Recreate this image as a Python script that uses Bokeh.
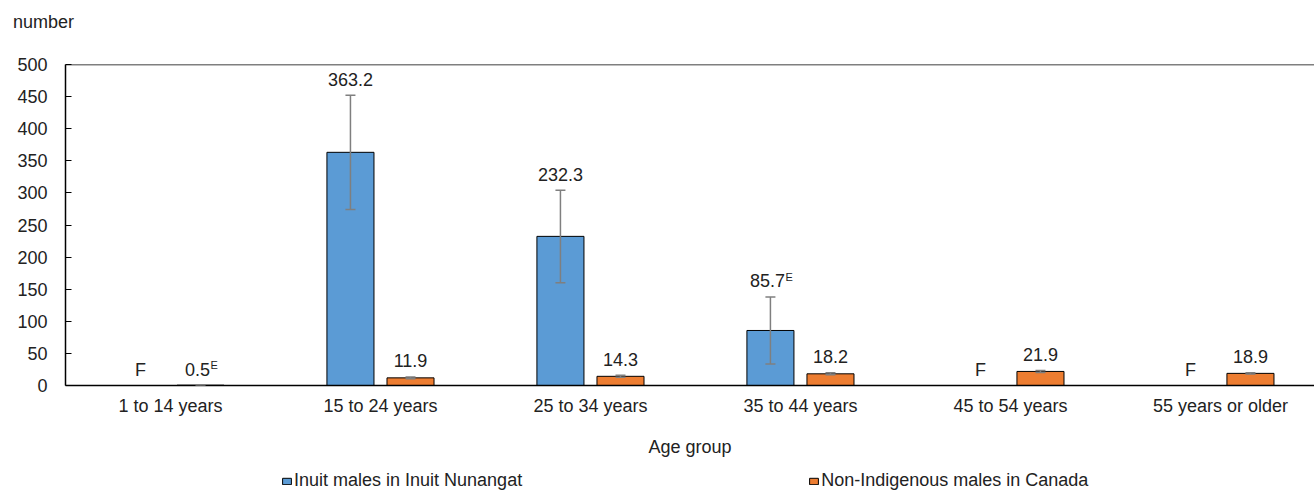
from bokeh.plotting import figure
from bokeh.layouts import column
from bokeh.models import (ColumnDataSource, Whisker, TeeHead, Legend, LegendItem,
                          Span, FixedTicker, Range1d, Div)
from bokeh.core.properties import value
from bokeh.embed import file_html
from bokeh.resources import INLINE

# ---------------- data ----------------
categories = ["1 to 14 years", "15 to 24 years", "25 to 34 years",
              "35 to 44 years", "45 to 54 years", "55 years or older"]
inuit_values = [None, 363.2, 232.3, 85.7, None, None]
inuit_err_low = [None, 274.0, 160.0, 33.5, None, None]
inuit_err_high = [None, 452.0, 304.0, 138.0, None, None]
inuit_labels = ["F", "363.2", "232.3", "85.7", "F", "F"]
inuit_flags = ["", "", "", "E", "", ""]

nonind_values = [0.5, 11.9, 14.3, 18.2, 21.9, 18.9]
nonind_err_low = [0.3, 10.4, 12.8, 16.6, 20.4, 17.9]
nonind_err_high = [0.7, 13.4, 15.8, 19.8, 23.4, 19.9]
nonind_labels = ["0.5", "11.9", "14.3", "18.2", "21.9", "18.9"]
nonind_flags = ["E", "", "", "", "", ""]

series_names = ["Inuit males in Inuit Nunangat", "Non-Indigenous males in Canada"]
y_ticks = [0, 50, 100, 150, 200, 250, 300, 350, 400, 450, 500]
y_title = "number"
x_title = "Age group"

# ---------------- style ----------------
FONT = "Liberation Sans"
TXT = "#222222"
BLUE = "#5B9BD5"
ORANGE = "#ED7D31"
ERR = "#7F7F7F"
FS = 18
BAR_W = 0.224
OFF = 0.143
W = 1314
LEFT = 65
TOP_H = 44

def est_width(s, fs=FS):
    w = 0.0
    for ch in s:
        w += 0.278 * fs if ch == "." else 0.556 * fs
    return w

centers = [i + 0.5 for i in range(len(categories))]

# ---- unit title above the chart ----
head = Div(text=y_title, width=W, height=TOP_H, margin=(0, 0, 0, 0),
           styles={"font-family": FONT, "font-size": f"{FS}px", "color": TXT,
                   "line-height": f"{TOP_H}px", "padding-left": "13px"})

# ---- main chart ----
p = figure(width=W, height=421, output_backend="svg", toolbar_location=None,
           x_range=Range1d(0, 5.948), y_range=Range1d(0, 500),
           min_border_left=LEFT, min_border_right=0, min_border_top=20, min_border_bottom=80)
p.outline_line_color = None
p.grid.visible = False
p.background_fill_color = "white"

bi = [i for i, v in enumerate(inuit_values) if v is not None]
src_b = ColumnDataSource(dict(
    x=[centers[i] - OFF for i in bi],
    top=[inuit_values[i] for i in bi],
    lower=[inuit_err_low[i] for i in bi],
    upper=[inuit_err_high[i] for i in bi]))
src_o = ColumnDataSource(dict(
    x=[c + OFF for c in centers],
    top=nonind_values, lower=nonind_err_low, upper=nonind_err_high))

rb = p.vbar(x="x", top="top", width=BAR_W, source=src_b, fill_color=BLUE,
            line_color="black", line_width=1)
ro = p.vbar(x="x", top="top", width=BAR_W, source=src_o, fill_color=ORANGE,
            line_color="black", line_width=1)

for src in (src_b, src_o):
    w = Whisker(source=src, base="x", upper="upper", lower="lower",
                line_color=ERR, line_width=1.5, level="overlay",
                upper_head=TeeHead(size=10, line_color=ERR, line_width=1.5),
                lower_head=TeeHead(size=10, line_color=ERR, line_width=1.5))
    p.add_layout(w)

def label_source(xs, ys, labels, flags):
    xo = [(-3.0 if f else 0.0) for f in flags]
    exo = [(-3.0 + est_width(l) / 2 + 0.5) for l in labels]
    return ColumnDataSource(dict(x=xs, y=ys, text=labels, flag=flags, xo=xo, exo=exo))

lab_b = label_source([c - OFF for c in centers],
                     [(h if h is not None else 0.0) for h in inuit_err_high],
                     inuit_labels, inuit_flags)
lab_o = label_source([c + OFF for c in centers], nonind_err_high, nonind_labels, nonind_flags)

for src in (lab_b, lab_o):
    p.text(x="x", y="y", text="text", source=src, x_offset="xo", y_offset=-16,
           text_align="center", text_baseline="middle", level="overlay",
           text_font=value(FONT), text_font_size=f"{FS}px", text_color=TXT)
    p.text(x="x", y="y", text="flag", source=src, x_offset="exo", y_offset=-20,
           text_align="left", text_baseline="middle", level="overlay",
           text_font=value(FONT), text_font_size="11px", text_color=TXT)

p.add_layout(Span(location=500, dimension="width", line_color="black", line_width=1.5))

ya = p.yaxis[0]
ya.ticker = FixedTicker(ticks=y_ticks)
ya.minor_tick_line_color = None
ya.major_tick_in = 6
ya.major_tick_out = 0
ya.major_tick_line_color = "black"
ya.major_tick_line_width = 1
ya.axis_line_color = "black"
ya.axis_line_width = 1.5
ya.major_label_standoff = 18
ya.major_label_text_font = FONT
ya.major_label_text_font_size = f"{FS}px"
ya.major_label_text_color = TXT

xa = p.xaxis[0]
xa.ticker = FixedTicker(ticks=centers)
xa.major_label_overrides = {c: n for c, n in zip(centers, categories)}
xa.minor_tick_line_color = None
xa.major_tick_line_color = None
xa.major_tick_in = 0
xa.major_tick_out = 0
xa.axis_line_color = "black"
xa.axis_line_width = 1.5
xa.major_label_standoff = 10
xa.major_label_text_font = FONT
xa.major_label_text_font_size = f"{FS}px"
xa.major_label_text_color = TXT
xa.axis_label = x_title
xa.axis_label_standoff = 18
xa.axis_label_text_font = FONT
xa.axis_label_text_font_size = f"{FS}px"
xa.axis_label_text_font_style = "normal"
xa.axis_label_text_color = TXT

# ---- legend strip (its frame is aligned with the chart frame) ----
LG_H = 26
lg = figure(width=W, height=LG_H, output_backend="svg", toolbar_location=None,
            x_range=Range1d(0, 1), y_range=Range1d(0, 1),
            min_border_left=LEFT, min_border_right=0, min_border_top=0, min_border_bottom=0)
lg.outline_line_color = None
lg.grid.visible = False
lg.axis.visible = False
# stand-in renderers (kept outside the visible range) that only supply legend swatches
lb = lg.vbar(x=[-5], top=[-5], width=0.1, fill_color=BLUE, line_color="black", line_width=1)
lo = lg.vbar(x=[-5], top=[-5], width=0.1, fill_color=ORANGE, line_color="black", line_width=1)
legend = Legend(items=[LegendItem(label=series_names[0], renderers=[lb]),
                       LegendItem(label=series_names[1], renderers=[lo])],
                orientation="horizontal", location=(281 - LEFT, 0),
                glyph_width=11, glyph_height=8, label_standoff=2, spacing=286,
                padding=0, margin=0, border_line_color=None, background_fill_alpha=0,
                label_text_font=FONT, label_text_font_size=f"{FS}px", label_text_color=TXT)
lg.add_layout(legend)

layout = column(head, p, lg, spacing=0)
open("out.html", "w").write(file_html(layout, INLINE))
